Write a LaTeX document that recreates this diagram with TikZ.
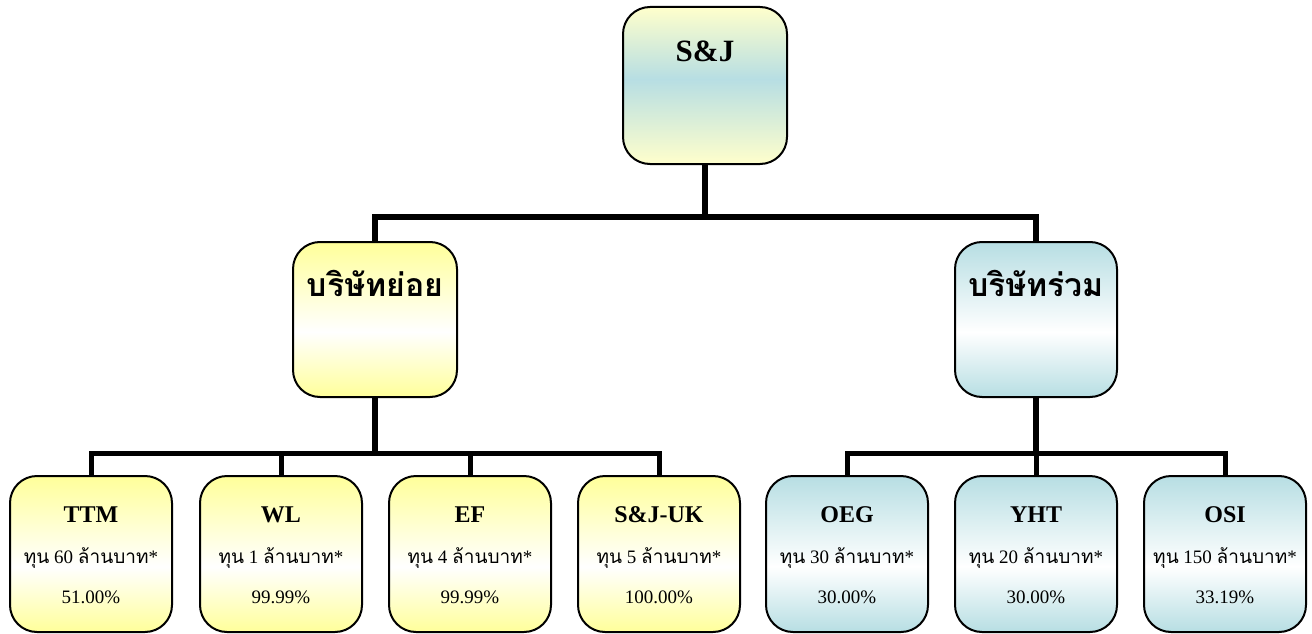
\documentclass[tikz,border=0pt]{standalone}
\usepackage{fontspec}
\setmainfont{Liberation Serif}
\newfontfamily\thai[Script=Thai]{Loma}
\definecolor{yel}{HTML}{FFFF9A}
\definecolor{lyel}{HTML}{FFFFCC}
\definecolor{blu}{HTML}{B7DEE3}
\pgfdeclareverticalshading{yshade}{100bp}{color(0bp)=(yel); color(25bp)=(yel); color(46bp)=(white); color(75bp)=(yel); color(100bp)=(yel)}
\pgfdeclareverticalshading{bshade}{100bp}{color(0bp)=(blu); color(25bp)=(blu); color(46bp)=(white); color(75bp)=(blu); color(100bp)=(blu)}
\pgfdeclareverticalshading{tshade}{100bp}{color(0bp)=(lyel); color(25bp)=(lyel); color(52bp)=(blu); color(75bp)=(lyel); color(100bp)=(lyel)}
\tikzset{
  box/.style={draw=black, line width=2pt, rounded corners=27pt, inner sep=0pt, outer sep=0pt},
  ybox/.style={box, shading=yshade, minimum width=162pt, minimum height=156pt},
  bbox/.style={box, shading=bshade, minimum width=162pt, minimum height=156pt},
  conn/.style={line width=6pt, line join=miter},
  conns/.style={line width=5pt, line join=miter},
  ttltext/.style={anchor=base, font=\bfseries\fontsize{24}{28}\selectfont},
  captext/.style={anchor=base, font=\fontsize{19}{22}\selectfont},
  pcttext/.style={anchor=base, font=\fontsize{19}{22}\selectfont},
  midtext/.style={anchor=base, font=\thai\bfseries\fontsize{32}{36}\selectfont},
}
\newcommand{\capt}[1]{{\thai ทุน} #1 {\thai ล้านบาท}*}
\begin{document}
\begin{tikzpicture}[x=1pt,y=-1pt]
\useasboundingbox (0,0) rectangle (1312,634);
% boxes
\node[box, shading=tshade, minimum width=164pt, minimum height=157pt] (S) at (705,85.5) {};
\node[ybox, minimum width=164pt, minimum height=155pt] (A) at (375,319.5) {};
\node[bbox, minimum width=162pt, minimum height=155pt] (B) at (1036,319.5) {};
\node[ybox] (b1) at (91,554) {};
\node[ybox] (b2) at (281,554) {};
\node[ybox] (b3) at (470,554) {};
\node[ybox] (b4) at (659,554) {};
\node[bbox] (r1) at (847,554) {};
\node[bbox] (r2) at (1036,554) {};
\node[bbox] (r3) at (1225,554) {};
% texts
\node[anchor=base, font=\bfseries\fontsize{31}{34}\selectfont] (tS) at (705,62) {S\&J};
\node[midtext] (tA) at (375,296) {บริษัทย่อย};
\node[midtext] (tB) at (1036,296) {บริษัทร่วม};
\foreach \n/\x/\t/\c/\p in {b1/91/TTM/60/51.00\%, b2/281/WL/1/99.99\%, b3/470/EF/4/99.99\%, b4/659/S\&J-UK/5/100.00\%, r1/847/OEG/30/30.00\%, r2/1036/YHT/20/30.00\%, r3/1225/OSI/150/33.19\%}{
  \node[ttltext] (t\n) at (\x,522) {\t};
  \node[captext] (c\n) at (\x,563) {\capt{\c}};
  \node[pcttext] (p\n) at (\x,603) {\p};
}
% connectors
\coordinate (j1) at (705,217);
\coordinate (j2) at (375,453);
\coordinate (j3) at (1036,453);
\draw[conn] (S.south) -- (j1);
\draw[conn] (A.north) |- (j1) -| (B.north);
\draw[conn] (A.south) -- (j2);
\draw[conn] (B.south) -- (j3);
\draw[conns] (b1.north) |- (j2) -| (b4.north);
\draw[conns] (b2.north) |- (j2);
\draw[conns] (b3.north) |- (j2);
\draw[conns] (r1.north) |- (j3) -| (r3.north);
\draw[conns] (r2.north) -- (j3);
\end{tikzpicture}
\end{document}
